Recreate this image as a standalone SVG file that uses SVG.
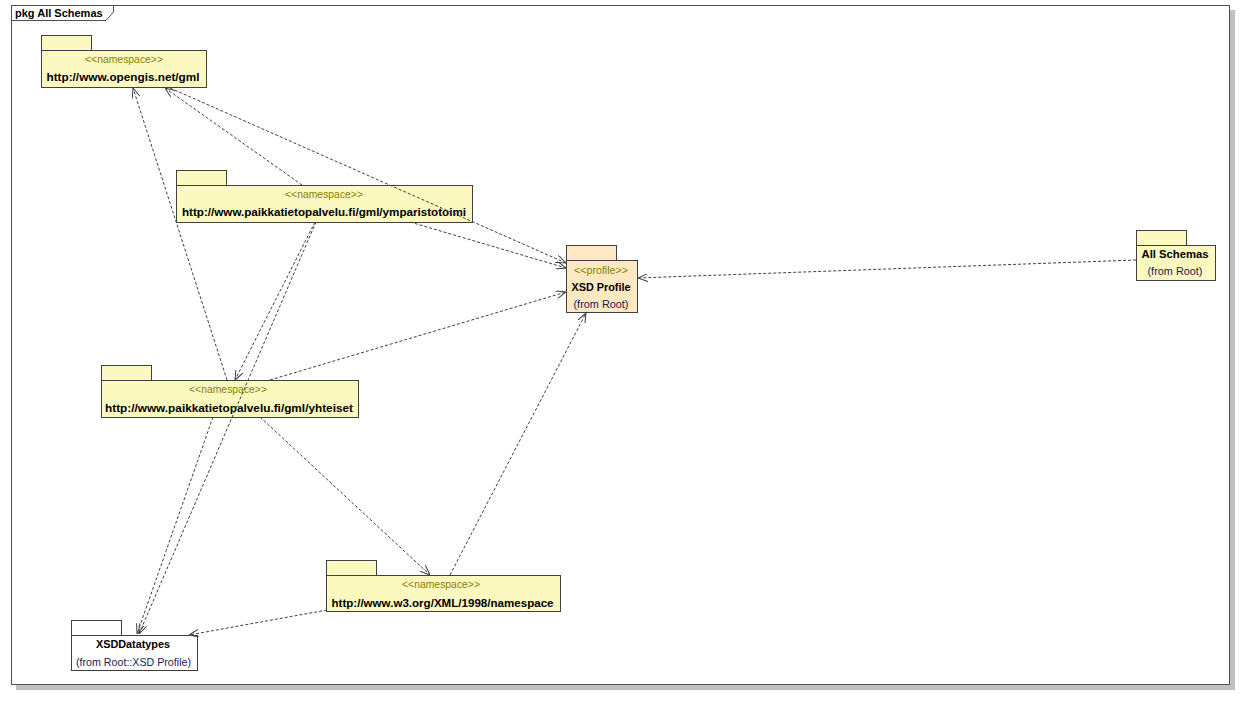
<svg xmlns="http://www.w3.org/2000/svg" width="1256" height="705" viewBox="0 0 1256 705">
<defs>
<style>
.bg{fill:#ffffff}
.frame{fill:none;stroke:#505050;stroke-width:1}
.shadow{fill:#c0c0c0}
.ns{fill:#fbf8c0;stroke:#404040;stroke-width:1}
.prof{fill:#fde8c4;stroke:#404040;stroke-width:1}
.plain{fill:#ffffff;stroke:#404040;stroke-width:1}
.st{font-family:"Liberation Sans",Arial,sans-serif;font-size:10.5px;fill:#8a8200;text-anchor:middle}
.nm{font-family:"Liberation Sans",Arial,sans-serif;font-size:11px;font-weight:bold;fill:#000000;text-anchor:middle}
.fr{font-family:"Liberation Sans",Arial,sans-serif;font-size:10.8px;fill:#1c1c50;text-anchor:middle}
.title{font-family:"Liberation Sans",Arial,sans-serif;font-size:11px;font-weight:bold;fill:#000000}
.dep{fill:none;stroke:#404040;stroke-width:1;stroke-dasharray:3,2;marker-end:url(#open)}
</style>
<marker id="open" viewBox="0 0 10 8" refX="10" refY="4" markerWidth="10" markerHeight="8" markerUnits="userSpaceOnUse" orient="auto">
<path d="M0,0 L10,4 L0,8" fill="none" stroke="#404040" stroke-width="1"/>
</marker>
</defs>
<rect class="bg" x="0" y="0" width="1256" height="705"/>
<g id="frame">
<rect class="shadow" x="1230" y="10" width="5" height="680"/>
<rect class="shadow" x="16" y="685" width="1219" height="5"/>
<rect class="frame" x="11.5" y="5.5" width="1218" height="679"/>
<path class="frame" d="M11.5,20.5 H106 L113.5,12 V5.5"/>
<text class="title" x="15" y="17">pkg All Schemas</text>
</g>
<g id="gml">
<rect class="ns" x="41.5" y="35.5" width="50" height="15"/>
<rect class="ns" x="41.5" y="50.5" width="165" height="37"/>
<text class="st" x="124" y="63" textLength="78" lengthAdjust="spacingAndGlyphs">&lt;&lt;namespace&gt;&gt;</text>
<text class="nm" x="123" y="81" textLength="153" lengthAdjust="spacingAndGlyphs">http://www.opengis.net/gml</text>
</g>
<g id="ymparistotoimi">
<rect class="ns" x="176.5" y="170.5" width="50" height="15"/>
<rect class="ns" x="176.5" y="185.5" width="296" height="37"/>
<text class="st" x="324" y="198" textLength="78" lengthAdjust="spacingAndGlyphs">&lt;&lt;namespace&gt;&gt;</text>
<text class="nm" x="324" y="216" textLength="284" lengthAdjust="spacingAndGlyphs">http://www.paikkatietopalvelu.fi/gml/ymparistotoimi</text>
</g>
<g id="xsdprofile">
<rect class="prof" x="566.5" y="245.5" width="50" height="15"/>
<rect class="prof" x="566.5" y="260.5" width="71" height="52"/>
<text class="st" x="601" y="274" textLength="54" lengthAdjust="spacingAndGlyphs">&lt;&lt;profile&gt;&gt;</text>
<text class="nm" x="601" y="291" textLength="59" lengthAdjust="spacingAndGlyphs">XSD Profile</text>
<text class="fr" x="601" y="308" textLength="55" lengthAdjust="spacingAndGlyphs">(from Root)</text>
</g>
<g id="allschemas">
<rect class="ns" x="1136.5" y="230.5" width="50" height="15"/>
<rect class="ns" x="1136.5" y="245.5" width="79" height="35"/>
<text class="nm" x="1175" y="258" textLength="67" lengthAdjust="spacingAndGlyphs">All Schemas</text>
<text class="fr" x="1175" y="275" textLength="55" lengthAdjust="spacingAndGlyphs">(from Root)</text>
</g>
<g id="yhteiset">
<rect class="ns" x="101.5" y="365.5" width="50" height="15"/>
<rect class="ns" x="101.5" y="380.5" width="257" height="37"/>
<text class="st" x="228" y="393" textLength="78" lengthAdjust="spacingAndGlyphs">&lt;&lt;namespace&gt;&gt;</text>
<text class="nm" x="229" y="411.5" textLength="248" lengthAdjust="spacingAndGlyphs">http://www.paikkatietopalvelu.fi/gml/yhteiset</text>
</g>
<g id="w3namespace">
<rect class="ns" x="326.5" y="560.5" width="50" height="15"/>
<rect class="ns" x="326.5" y="575.5" width="234" height="36"/>
<text class="st" x="441" y="588" textLength="78" lengthAdjust="spacingAndGlyphs">&lt;&lt;namespace&gt;&gt;</text>
<text class="nm" x="442.5" y="606.5" textLength="222" lengthAdjust="spacingAndGlyphs">http://www.w3.org/XML/1998/namespace</text>
</g>
<g id="xsddatatypes">
<rect class="plain" x="71.5" y="620.5" width="50" height="15"/>
<rect class="plain" x="71.5" y="635.5" width="126" height="35"/>
<text class="nm" x="133" y="648" textLength="74" lengthAdjust="spacingAndGlyphs">XSDDatatypes</text>
<text class="fr" x="133.5" y="665.5" textLength="115" lengthAdjust="spacingAndGlyphs">(from Root::XSD Profile)</text>
</g>
<g id="connectors">
<line class="dep" x1="302" y1="185" x2="165" y2="88"/>
<line class="dep" x1="170" y1="88" x2="566" y2="263"/>
<line class="dep" x1="227" y1="380" x2="133" y2="88"/>
<line class="dep" x1="410" y1="222" x2="566" y2="268"/>
<line class="dep" x1="315" y1="222" x2="235" y2="380"/>
<line class="dep" x1="316" y1="222" x2="139" y2="634"/>
<line class="dep" x1="270" y1="380" x2="566" y2="292"/>
<line class="dep" x1="260" y1="417" x2="430" y2="575"/>
<line class="dep" x1="213" y1="417" x2="137" y2="634"/>
<line class="dep" x1="450" y1="575" x2="586" y2="313"/>
<line class="dep" x1="327" y1="610" x2="189" y2="635"/>
<line class="dep" x1="1136" y1="260" x2="638" y2="278"/>
</g>
</svg>
